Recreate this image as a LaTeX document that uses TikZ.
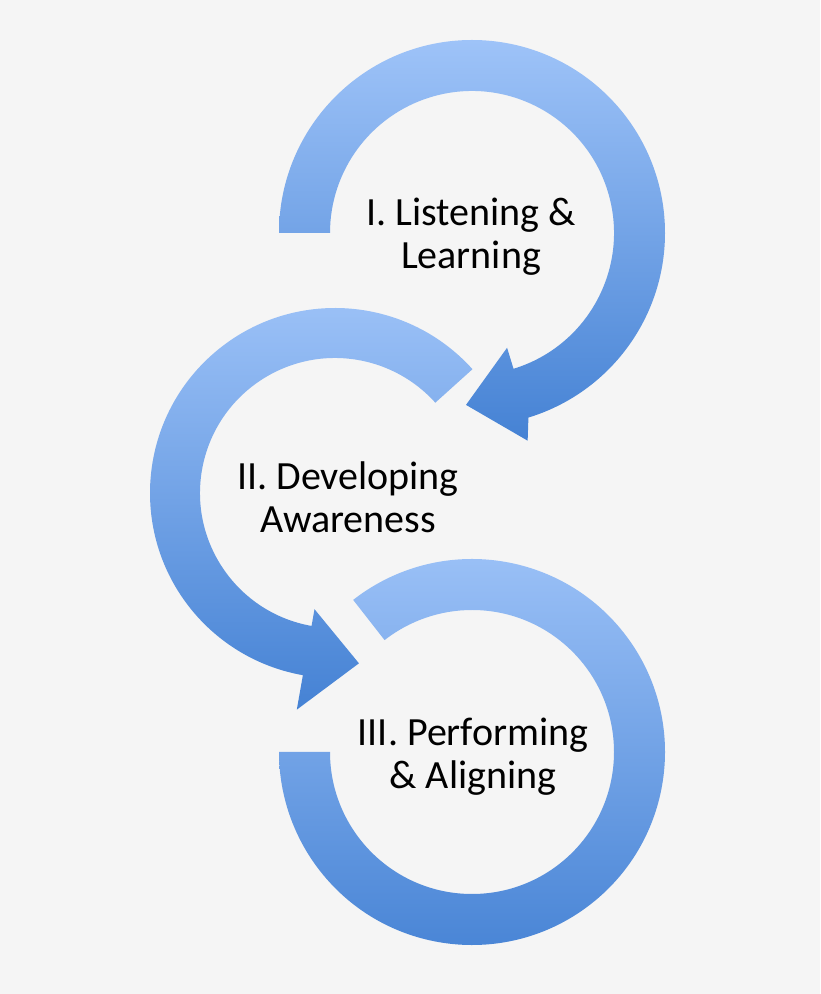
\documentclass[tikz,border=0pt]{standalone}
\usepackage{fontspec}
\setmainfont{Carlito}
\usetikzlibrary{calc}
\definecolor{bg}{HTML}{F5F5F5}
\definecolor{topc}{HTML}{9EC3F8}
\definecolor{botc}{HTML}{4582D4}
\begin{document}
\begin{tikzpicture}[x=1pt,y=1pt,
  band/.style={top color=topc,bottom color=botc,draw=none},
  lbl/.style={font=\fontsize{40}{43}\selectfont,align=center,text=black}]
\fill[bg] (0,0) rectangle (820,994);
\useasboundingbox (0,0) rectangle (820,994);
% arc 3
\coordinate (c3) at (472,242);
\path[band] ($(c3)+(128:193)$) arc[start angle=128,end angle=-180,radius=193]
  -- ($(c3)+(180:142)$) arc[start angle=-180,end angle=128,radius=142] -- cycle;
% arc 2
\coordinate (c2) at (335,501);
\path[band] ($(c2)+(42:185)$) arc[start angle=42,end angle=260,radius=185]
  -- ($(c2)+(260:220)$) -- ($(c2)+(278:172)$) -- ($(c2)+(260:118)$)
  -- ($(c2)+(260:135)$) arc[start angle=260,end angle=42,radius=135] -- cycle;
% arc 1
\coordinate (c1) at (472,761);
\path[band] ($(c1)+(180:193)$) arc[start angle=180,end angle=-73,radius=193]
  -- ($(c1)+(-75:215)$) -- ($(c1)+(-92:172)$) -- ($(c1)+(-73:120)$)
  -- ($(c1)+(-73:142)$) arc[start angle=-73,end angle=180,radius=142] -- cycle;
\node[lbl] (t1) at (471,757) {I. Listening \&\\Learning};
\node[lbl] (t2) at (348,497) {II. Developing\\Awareness};
\node[lbl] (t3) at (473,237) {III. Performing\\\& Aligning};
\end{tikzpicture}
\end{document}
